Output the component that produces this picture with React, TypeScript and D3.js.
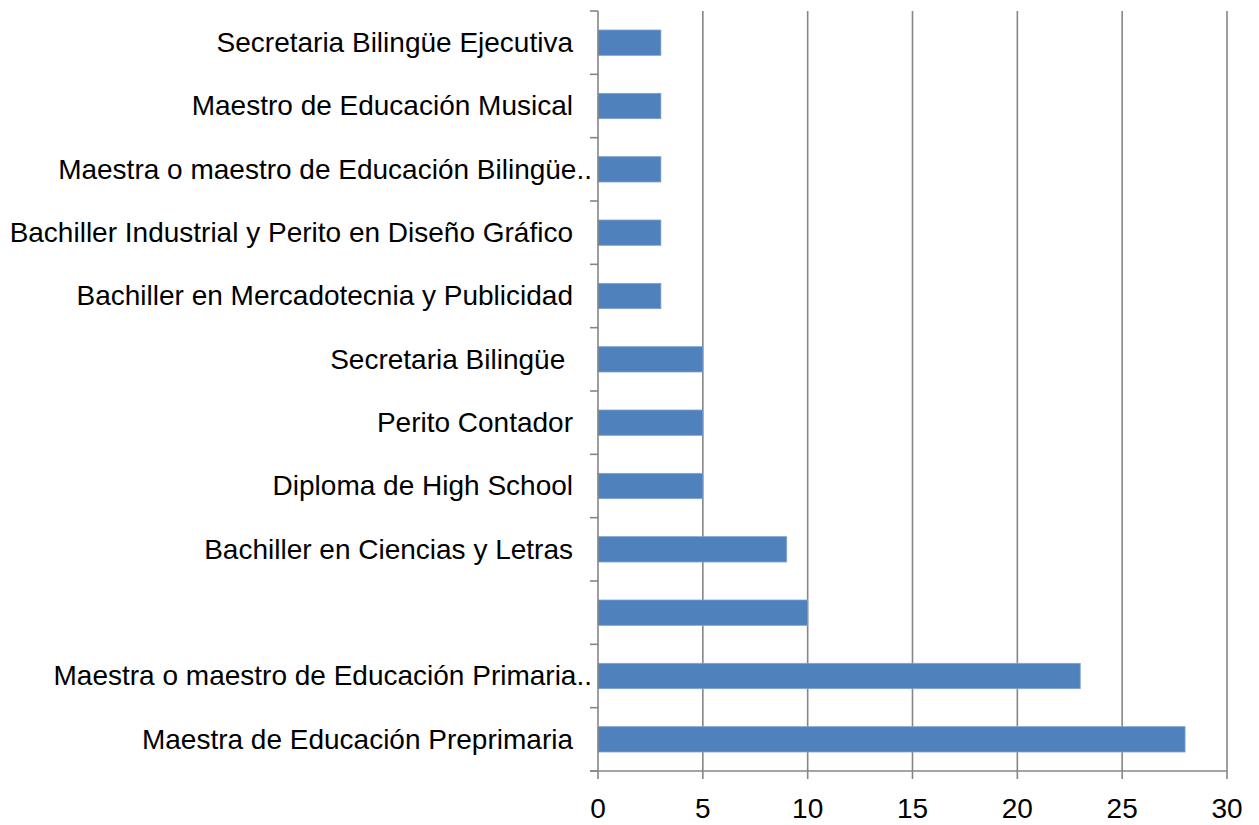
import React from "react";
import * as d3 from "d3";

const categories: string[] = [
  "Secretaria Bilingüe Ejecutiva",
  "Maestro de Educación Musical",
  "Maestra o maestro de Educación Bilingüe..",
  "Bachiller Industrial y Perito en Diseño Gráfico",
  "Bachiller en Mercadotecnia y Publicidad",
  "Secretaria Bilingüe ",
  "Perito Contador",
  "Diploma de High School",
  "Bachiller en Ciencias y Letras",
  "",
  "Maestra o maestro de Educación Primaria..",
  "Maestra de Educación Preprimaria",
];
const values: number[] = [3, 3, 3, 3, 3, 5, 5, 5, 9, 10, 23, 28];
const xTicks: number[] = [0, 5, 10, 15, 20, 25, 30];

const W = 1259;
const H = 825;
const left = 598;
const right = 1227;
const top = 11;
const bottom = 771;

export default function App() {
  const x = d3.scaleLinear().domain([0, 30]).range([left, right]);
  const y = d3
    .scaleBand<number>()
    .domain(d3.range(categories.length))
    .range([top, bottom])
    .paddingInner(0.6)
    .paddingOuter(0.3);
  const step = y.step();
  const font = "Arial, 'Liberation Sans', sans-serif";
  const axisColor = "#868686";
  return (
    <svg
      width={W}
      height={H}
      style={{ position: "absolute", left: 0, top: 0 }}
      xmlns="http://www.w3.org/2000/svg"
    >
      <rect x={0} y={0} width={W} height={H} fill="#fff" />
      {xTicks.slice(1).map((t) => (
        <line
          key={"g" + t}
          x1={x(t)}
          x2={x(t)}
          y1={top}
          y2={bottom + 8}
          stroke={axisColor}
          strokeWidth={1.6}
        />
      ))}
      {values.map((v, i) => (
        <rect
          key={"b" + i}
          x={x(0)}
          y={y(i)!}
          width={x(v) - x(0)}
          height={y.bandwidth()}
          fill="#4F81BD"
          stroke="#7FA3D2"
          strokeWidth={0.8}
        />
      ))}
      <line x1={left} x2={left} y1={top} y2={bottom + 8} stroke={axisColor} strokeWidth={1.6} />
      {d3.range(categories.length + 1).map((i) => (
        <line
          key={"yt" + i}
          x1={left - 8}
          x2={left}
          y1={top + i * step}
          y2={top + i * step}
          stroke={axisColor}
          strokeWidth={1.6}
        />
      ))}
      <line x1={left - 8} x2={right} y1={bottom} y2={bottom} stroke={axisColor} strokeWidth={1.6} />
      {categories.map((c, i) => (
        <text
          key={"l" + i}
          x={c.endsWith("..") ? 592 : 573}
          y={y(i)! + y.bandwidth() / 2}
          dy="0.33em"
          textAnchor="end"
          fontFamily={font}
          fontSize={28}
          fill="#000"
          style={{ whiteSpace: "pre" }}
        >
          {c}
        </text>
      ))}
      {xTicks.map((t) => (
        <text
          key={"xl" + t}
          x={x(t)}
          y={818}
          textAnchor="middle"
          fontFamily={font}
          fontSize={28}
          fill="#000"
        >
          {t}
        </text>
      ))}
    </svg>
  );
}
